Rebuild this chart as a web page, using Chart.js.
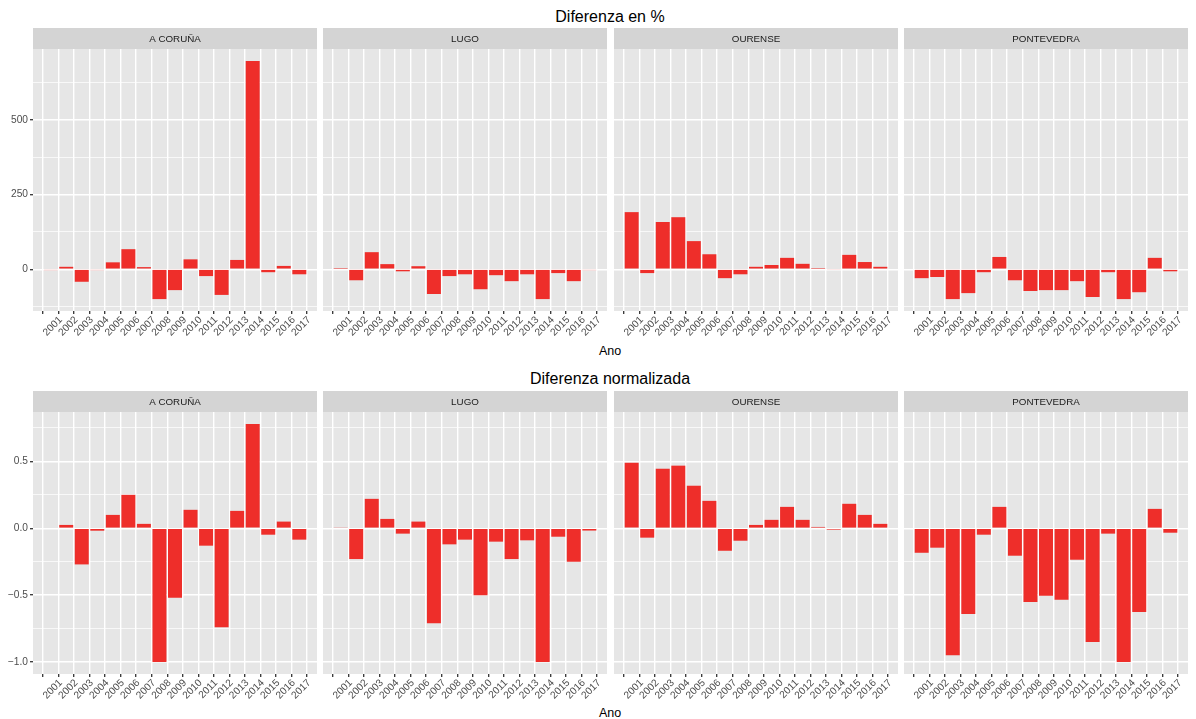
<!DOCTYPE html>
<html>
<head>
<meta charset="utf-8">
<script src="https://cdn.jsdelivr.net/npm/chart.js@4"></script>
<style>
  body { margin: 0; background: #fff; width: 1196px; height: 719px; position: relative; overflow: hidden;
         font-family: "Liberation Sans", Arial, Helvetica, sans-serif; }
  canvas { position: absolute; }
  .ttl { position: absolute; left: 0; width: 1220px; text-align: center; font-size: 16px; color: #000; line-height: 1; }
  .xlab { position: absolute; left: 0; width: 1220px; text-align: center; font-size: 12.5px; color: #000; line-height: 1; }
</style>
</head>
<body>
<div class="ttl" style="top:9px">Diferenza en %</div>
<div class="xlab" style="top:345px">Ano</div>
<div class="ttl" style="top:371px">Diferenza normalizada</div>
<div class="xlab" style="top:707px">Ano</div>

<script>
   const years = [2001, 2002, 2003, 2004, 2005, 2006, 2007, 2008, 2009, 2010, 2011, 2012, 2013, 2014, 2015, 2016, 2017];
   const provinces = ['A CORUÑA', 'LUGO', 'OURENSE', 'PONTEVEDRA'];

   //    diferenza en %
   const pctCoruna     = [-3, 8, -42, -3, 23, 67, 7, -100, -70, 33, -23, -86, 31, 697, -10, 11, -17];
   const pctLugo       = [4, -37, 57, 17, -7, 10, -83, -23, -17, -67, -20, -40, -17, -100, -13, -40, -3];
   const pctOurense    = [191, -13, 158, 174, 94, 50, -30, -17, 8, 14, 38, 18, 4, -2, 48, 24, 8];
   const pctPontevedra = [-30, -26, -100, -80, -10, 41, -37, -73, -70, -70, -40, -93, -10, -100, -77, 38, -7];

   //    diferenza normalizada
   const normCoruna     = [-0.005, 0.025, -0.27, -0.018, 0.10, 0.25, 0.033, -1.0, -0.52, 0.138, -0.13, -0.74, 0.13, 0.78, -0.048, 0.05, -0.085];
   const normLugo       = [0.004, -0.23, 0.22, 0.07, -0.04, 0.05, -0.71, -0.12, -0.085, -0.50, -0.10, -0.23, -0.09, -1.0, -0.063, -0.25, -0.017];
   const normOurense    = [0.49, -0.07, 0.445, 0.468, 0.318, 0.205, -0.168, -0.093, 0.025, 0.063, 0.16, 0.063, 0.01, -0.01, 0.183, 0.10, 0.033];
   const normPontevedra = [-0.183, -0.145, -0.948, -0.64, -0.048, 0.16, -0.205, -0.55, -0.505, -0.535, -0.235, -0.85, -0.04, -1.0, -0.625, 0.145, -0.033];

   const pctTicks  = [-125, 0, 125, 250, 375, 500, 625];
   const normTicks = [-1, -0.75, -0.5, -0.25, 0, 0.25, 0.5, 0.75];

   const FONT = '"Liberation Sans", Arial, Helvetica, sans-serif';
   const panelLefts = [33, 323, 614, 904];
   const panelWidth = 284;

   //    strip + panel background, ggplot style
   const stripPlugin = {
       id: 'strip',
       beforeDraw(chart, args, opts) {
           const {ctx, chartArea: a} = chart;
           ctx.save();
           ctx.fillStyle = '#D4D4D4';
           ctx.fillRect(a.left, a.top - 21, a.right - a.left, 21);
           ctx.fillStyle = '#E6E6E6';
           ctx.fillRect(a.left, a.top, a.right - a.left, a.bottom - a.top);
           ctx.fillStyle = '#1A1A1A';
           ctx.font = '9.8px ' + FONT;
           ctx.textAlign = 'center';
           ctx.textBaseline = 'middle';
           ctx.fillText(opts.text, (a.left + a.right) / 2, a.top - 10);
           ctx.restore();
       }
   };

   function range(arrays) {
       const all = [].concat(...arrays);
       const lo = Math.min(...all), hi = Math.max(...all);
       const pad = (hi - lo) * 0.05;
       return [lo - pad, hi + pad];
   }

   function makePanel(top, col, name, values, yr, ticks, isMajor, fmt) {
       const first = col === 0;
       const padLeft = first ? 0 : 40;
       const canvas = document.createElement('canvas');
       const w = padLeft + (first ? 33 : 0) + panelWidth + 10;
       const h = 21 + 262 + 36;
       canvas.width = w;
       canvas.height = h;
       canvas.style.left = (panelLefts[col] - padLeft - (first ? 33 : 0)) + 'px';
       canvas.style.top = top + 'px';
       document.body.appendChild(canvas);

       new Chart(canvas, {
           type: 'bar',
           data: {
               datasets: [{
                   data: years.map((y, i) => ({x: y, y: values[i]})),
                   backgroundColor: '#EE2E2A',
                   borderWidth: 0,
                   barPercentage: 0.9,
                   categoryPercentage: 1.0
               }]
           },
           plugins: [stripPlugin],
           options: {
               responsive: false,
               animation: false,
               devicePixelRatio: 1,
               layout: {padding: {top: 21, left: padLeft, right: 10, bottom: 0}},
               plugins: {
                   legend: {display: false},
                   tooltip: {enabled: false},
                   strip: {text: name}
               },
               scales: {
                   x: {
                       type: 'linear',
                       min: years[0] - 0.6,
                       max: years[years.length - 1] + 0.6,
                       afterBuildTicks: s => { s.ticks = years.map(v => ({value: v})); },
                       afterFit: s => { s.height = 36; },
                       border: {display: false},
                       grid: {
                           color: '#FFFFFF',
                           lineWidth: 1.4,
                           tickColor: '#333333',
                           tickLength: 3,
                           tickWidth: 1.3
                       },
                       ticks: {
                           autoSkip: false,
                           maxRotation: 45,
                           minRotation: 45,
                           padding: 0,
                           labelOffset: 10,
                           color: '#4D4D4D',
                           font: {family: FONT, size: 10.2},
                           callback: v => String(v)
                       }
                   },
                   y: {
                       min: yr[0],
                       max: yr[1],
                       afterBuildTicks: s => { s.ticks = ticks.map(v => ({value: v})); },
                       afterFit: s => { s.width = first ? 33 : 0; },
                       border: {display: false},
                       grid: {
                           color: '#FFFFFF',
                           lineWidth: c => isMajor(c.tick.value) ? 1.4 : 0.7,
                           drawTicks: first,
                           tickColor: c => isMajor(c.tick.value) ? '#333333' : 'rgba(0,0,0,0)',
                           tickLength: 3,
                           tickWidth: 1.3
                       },
                       ticks: {
                           display: first,
                           padding: 2,
                           color: '#4D4D4D',
                           font: {family: FONT, size: 10.2},
                           callback: v => isMajor(v) ? fmt(v) : ''
                       }
                   }
               }
           }
       });
   }

   const pctSets = [pctCoruna, pctLugo, pctOurense, pctPontevedra];
   const normSets = [normCoruna, normLugo, normOurense, normPontevedra];
   const pctRange = range(pctSets);
   const normRange = range(normSets);

   const pctMajor = v => Math.abs(v % 250) < 1e-9;
   const normMajor = v => Math.abs(Math.round(v * 2) - v * 2) < 1e-9;
   const pctFmt = v => String(v);
   const normFmt = v => (v < 0 ? '\u2212' : '') + Math.abs(v).toFixed(1);

   provinces.forEach((p, i) => {
       makePanel(28, i, p, pctSets[i], pctRange, pctTicks, pctMajor, pctFmt);
       makePanel(391, i, p, normSets[i], normRange, normTicks, normMajor, normFmt);
   });
</script>
</body>
</html>
